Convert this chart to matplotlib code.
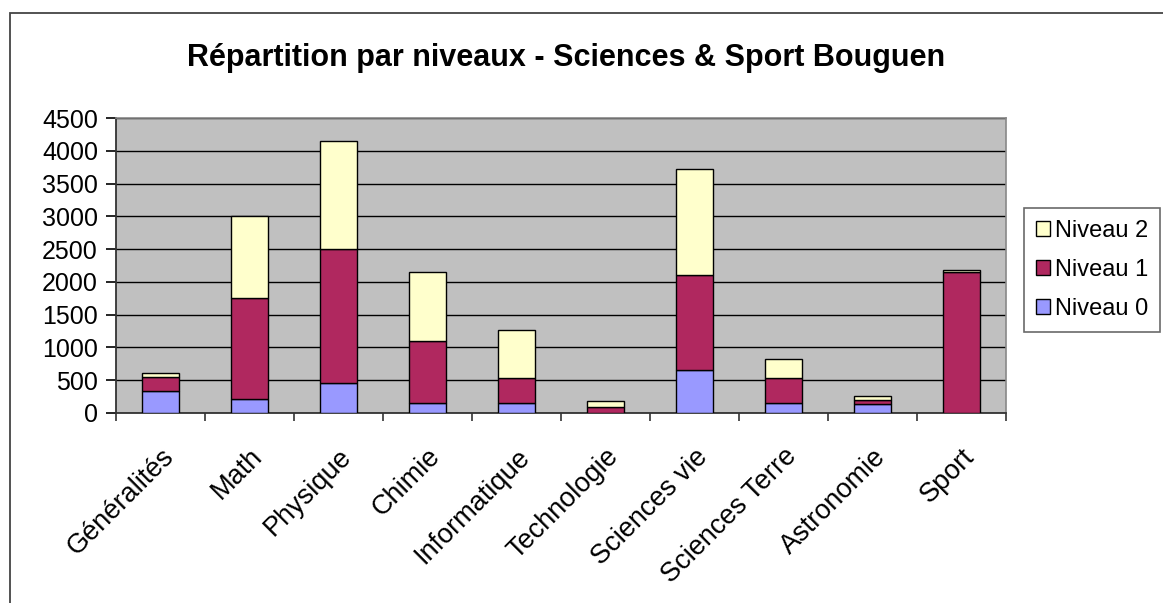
import matplotlib
matplotlib.use("Agg")
import matplotlib.pyplot as plt
from matplotlib.patches import Rectangle
import numpy as np

categories = ["Généralités", "Math", "Physique", "Chimie", "Informatique",
              "Technologie", "Sciences vie", "Sciences Terre", "Astronomie", "Sport"]
niveau0 = [330, 210, 455, 160, 160, 0, 655, 160, 135, 0]
niveau1 = [220, 1550, 2045, 940, 370, 90, 1455, 370, 65, 2150]
niveau2 = [60, 1240, 1645, 1050, 735, 95, 1615, 300, 60, 25]
yticks = [0, 500, 1000, 1500, 2000, 2500, 3000, 3500, 4000, 4500]

plt.rcParams['font.family'] = ['Liberation Sans', 'DejaVu Sans']

W, H = 1163, 603
fig = plt.figure(figsize=(W / 100, H / 100), dpi=100)
fig.patch.set_facecolor('white')

# outer frame of the chart
fig.patches.append(Rectangle((10 / W, -0.1), 1.2, 1 - 13 / H + 0.1, transform=fig.transFigure,
                             fill=False, edgecolor='#444444', linewidth=1.3))

left, right, top, bottom = 116, 1006, 118, 413
ax = fig.add_axes([left / W, 1 - bottom / H, (right - left) / W, (bottom - top) / H])
ax.set_facecolor('#C0C0C0')

x = np.arange(len(categories))
n0 = np.array(niveau0)
n1 = np.array(niveau1)
n2 = np.array(niveau2)
w = 0.41
kw = dict(width=w, edgecolor='black', linewidth=1.0, zorder=3)
b0 = ax.bar(x, n0, color='#9999FF', label='Niveau 0', **kw)
b1 = ax.bar(x, n1, bottom=n0, color='#B0285F', label='Niveau 1', **kw)
b2 = ax.bar(x, n2, bottom=n0 + n1, color='#FFFFCC', label='Niveau 2', **kw)

ax.set_xlim(-0.5, len(categories) - 0.5)
ax.set_ylim(0, 4500)
ax.set_yticks(yticks)
ax.set_yticklabels([str(v) for v in yticks], fontsize=18)
ax.yaxis.grid(True, color='black', linewidth=1.0, zorder=1)
ax.set_axisbelow(True)

# category boundary ticks
ax.set_xticks(np.arange(-0.5, len(categories), 1.0))
ax.set_xticklabels([])
ax.set_xticks(x, minor=True)
ax.set_xticklabels(categories, minor=True, rotation=45, ha='right', va='top',
                   rotation_mode='anchor', fontsize=19.5)
ax.tick_params(axis='x', which='minor', length=0, pad=22)
ax.tick_params(axis='x', which='major', length=6, width=1.2, color='#333333', direction='out')
ax.tick_params(axis='y', length=7, width=1.2, direction='out', pad=6)

for s in ['top', 'right']:
    ax.spines[s].set_color('#888888')
    ax.spines[s].set_linewidth(1.2)
for s in ['left', 'bottom']:
    ax.spines[s].set_color('#333333')
    ax.spines[s].set_linewidth(1.3)

fig.text(566 / W, 1 - 58 / H, "Répartition par niveaux - Sciences & Sport Bouguen",
         ha='center', va='center', fontsize=22, fontweight='bold')

leg = fig.legend(handles=[b2, b1, b0], labels=['Niveau 2', 'Niveau 1', 'Niveau 0'],
                 loc='upper left', bbox_to_anchor=(1024 / W, 1 - 208 / H),
                 fontsize=17, frameon=True, fancybox=False, edgecolor='#444444',
                 handlelength=0.6, handleheight=0.6, handletextpad=0.2,
                 labelspacing=0.72, borderpad=0.5, borderaxespad=0)
leg.get_frame().set_linewidth(1.2)

fig.savefig('out.png', dpi=100)
